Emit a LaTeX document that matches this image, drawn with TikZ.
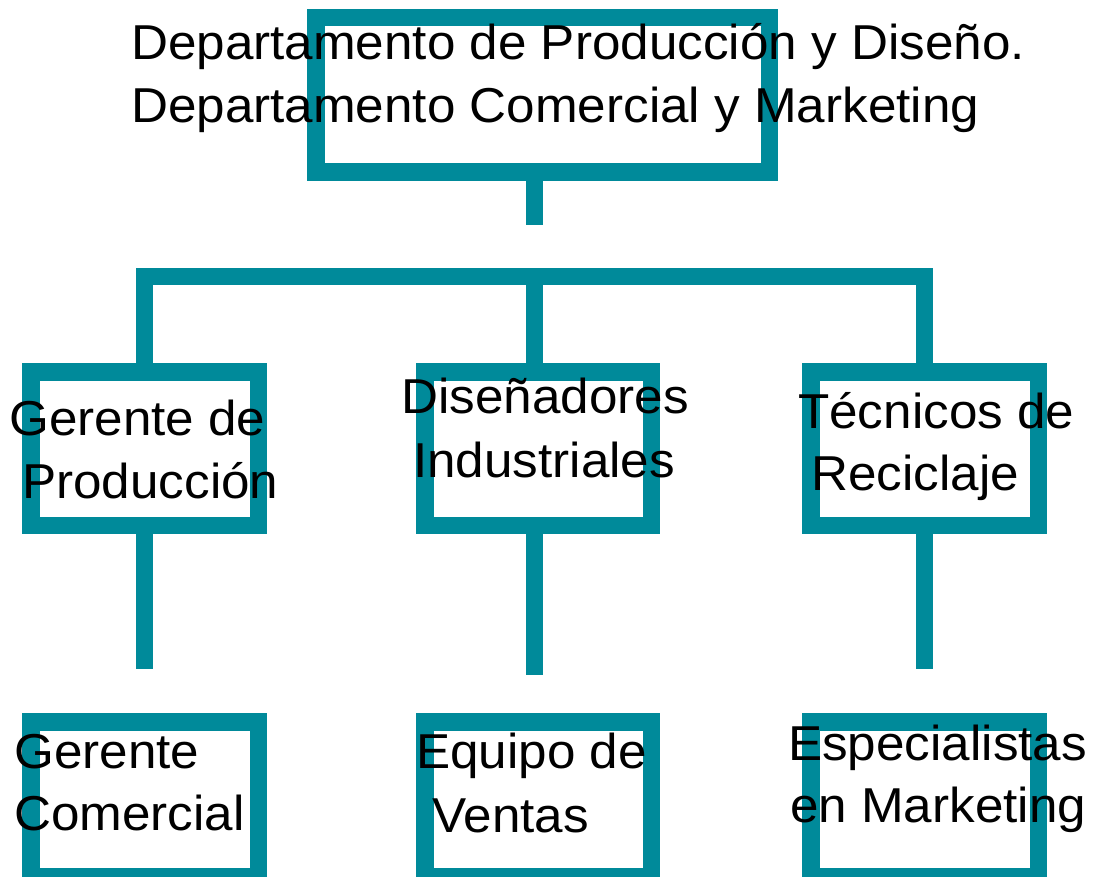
\documentclass[tikz,border=0pt]{standalone}
\usepackage{fontspec}
\setmainfont{Liberation Sans}[FakeStretch=1.045]
\definecolor{teal1}{HTML}{008A9A}
\begin{document}
\begin{tikzpicture}[x=1pt,y=-1pt,
  box/.style={draw=teal1,line width=17.5pt,inner sep=0pt,fill=white,minimum height=153.5pt},
  link/.style={draw=teal1,line width=17.5pt,line cap=butt,line join=miter},
  lbl/.style={anchor=base west,inner sep=0pt,font=\fontsize{49}{58}\selectfont,text=black}]
\useasboundingbox (0,0) rectangle (1103,877);
\clip (0,0) rectangle (1103,877);
% boxes
\node[box,minimum width=453.5pt,minimum height=154.5pt] (top) at (542.5,95) {};
\node[box,minimum width=227.5pt] (m1) at (144.5,448.5) {};
\node[box,minimum width=226.5pt] (m2) at (538,448.5) {};
\node[box,minimum width=227.5pt] (m3) at (924.5,448.5) {};
\node[box,minimum width=227.5pt,minimum height=154.5pt] (b1) at (144.5,799) {};
\node[box,minimum width=226.5pt,minimum height=154.5pt] (b2) at (538,799) {};
\node[box,minimum width=227.5pt,minimum height=154.5pt] (b3) at (924.5,799) {};
% free ends
\coordinate (ts) at (534.5,225);
\coordinate (hub) at (534.5,276.5);
\coordinate (e1) at (144.5,669);
\coordinate (e2) at (534.5,675);
\coordinate (e3) at (924.5,669);
% connectors
\draw[link] (top.south -| ts) -- (ts);
\draw[link] (hub) -- (hub |- m2.north);
\draw[link] (m1.north) -- (m1.north |- hub) -- (m3.north |- hub) -- (m3.north);
\draw[link] (m1.south) -- (e1);
\draw[link] (m2.south -| e2) -- (e2);
\draw[link] (m3.south) -- (e3);
% texts
\node[lbl] (t1) at (131,60) {Departamento de Producción y Diseño.};
\node[lbl] (t2) at (131,123) {Departamento Comercial y Marketing};
\node[lbl] (m1a) at (9,435) {Gerente de};
\node[lbl] (m1b) at (22,498) {Producción};
\node[lbl] (m2a) at (401,413) {Diseñadores};
\node[lbl] (m2b) at (413,477) {Industriales};
\node[lbl] (m3a) at (798,428) {Técnicos de};
\node[lbl] (m3b) at (811,490) {Reciclaje};
\node[lbl] (b1a) at (14,768) {Gerente};
\node[lbl] (b1b) at (14,830) {Comercial};
\node[lbl] (b2a) at (416,768) {Equipo de};
\node[lbl] (b2b) at (432,832) {Ventas};
\node[lbl] (b3a) at (788,760) {Especialistas};
\node[lbl] (b3b) at (790,822) {en Marketing};
\end{tikzpicture}
\end{document}
